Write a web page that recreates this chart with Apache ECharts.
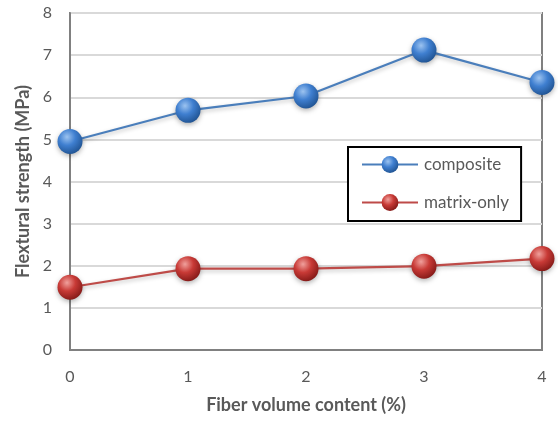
<!DOCTYPE html>
<html>
<head>
<meta charset="utf-8">
<script src="https://cdn.jsdelivr.net/npm/echarts@6/dist/echarts.min.js"></script>
<style>
  html, body { margin: 0; padding: 0; background: #fff; }
  #chart { width: 558px; height: 423px; }
</style>
</head>
<body>
<div id="chart"></div>
<script>
// Fiber volume content (%) on the x axis
const fiberContent = [0, 1, 2, 3, 4];
// Flexural strength (MPa)
const compositeStrength = [4.95, 5.69, 6.03, 7.12, 6.35];
const matrixStrength = [1.49, 1.93, 1.93, 1.99, 2.17];
const yTicks = [0, 1, 2, 3, 4, 5, 6, 7, 8];

function sphere(light, base, dark) {
  return {
    type: 'radial', x: 0.38, y: 0.32, r: 0.75,
    colorStops: [
      { offset: 0, color: light },
      { offset: 0.45, color: base },
      { offset: 1, color: dark }
    ]
  };
}

const chart = echarts.init(document.getElementById('chart'));
const font = 'Lato, "Open Sans", sans-serif';

chart.setOption({
  animation: false,
  backgroundColor: '#ffffff',
  grid: { left: 70, right: 16, top: 13, bottom: 73, show: true, borderColor: '#808080', borderWidth: 2 },
  xAxis: {
    type: 'value', min: 0, max: 4, interval: 1,
    name: 'Fiber volume content (%)', nameLocation: 'middle', nameGap: 46,
    nameTextStyle: { fontFamily: font, fontSize: 18, fontWeight: 'bold', color: '#595959' },
    axisLine: { show: true, lineStyle: { color: '#808080', width: 2 } },
    axisTick: { show: false },
    splitLine: { show: false },
    axisLabel: { fontFamily: font, fontSize: 16, color: '#595959', margin: 19 }
  },
  yAxis: {
    type: 'value', min: yTicks[0], max: yTicks[yTicks.length - 1], interval: 1,
    name: 'Flextural strength (MPa)', nameLocation: 'middle', nameGap: 36,
    nameTextStyle: { fontFamily: font, fontSize: 18, fontWeight: 'bold', color: '#595959' },
    axisLine: { show: true, lineStyle: { color: '#808080', width: 2 } },
    axisTick: { show: false },
    splitLine: { show: true, lineStyle: { color: '#d9d9d9', width: 2 } },
    axisLabel: { fontFamily: font, fontSize: 16, color: '#595959', margin: 18 }
  },
  legend: {
    orient: 'vertical',
    left: 348, top: 147, width: 176, height: 77,
    padding: [9, 12, 10, 13],
    itemGap: 21,
    itemWidth: 56, itemHeight: 21,
    backgroundColor: '#ffffff',
    borderColor: '#000000', borderWidth: 2,
    textStyle: { fontFamily: font, fontSize: 17, color: '#595959', padding: [0, 0, 0, 1] },
    data: ['composite', 'matrix-only']
  },
  series: [
    {
      name: 'composite', type: 'line',
      data: fiberContent.map((x, i) => [x, compositeStrength[i]]),
      symbol: 'circle', symbolSize: 25,
      lineStyle: { color: '#4a7ebb', width: 2.2, shadowColor: 'rgba(0,0,0,0.25)', shadowBlur: 4, shadowOffsetY: 2 },
      itemStyle: { color: sphere('#9cc3f0', '#3f7fd0', '#1d4f8c'), shadowColor: 'rgba(0,0,0,0.3)', shadowBlur: 5, shadowOffsetY: 2 },
      z: 3
    },
    {
      name: 'matrix-only', type: 'line',
      data: fiberContent.map((x, i) => [x, matrixStrength[i]]),
      symbol: 'circle', symbolSize: 25,
      lineStyle: { color: '#be4b48', width: 2.2, shadowColor: 'rgba(0,0,0,0.25)', shadowBlur: 4, shadowOffsetY: 2 },
      itemStyle: { color: sphere('#f0a09c', '#c83a36', '#7d1614'), shadowColor: 'rgba(0,0,0,0.3)', shadowBlur: 5, shadowOffsetY: 2 },
      z: 3
    }
  ]
});
</script>
</body>
</html>
